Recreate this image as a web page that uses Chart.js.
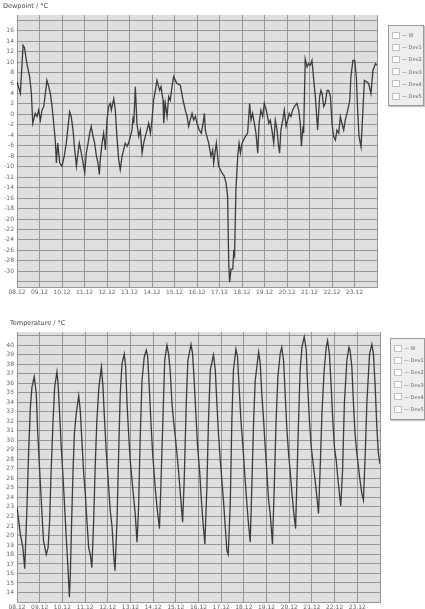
<!DOCTYPE html>
<html><head><meta charset="utf-8">
<script src="https://cdn.jsdelivr.net/npm/chart.js@4/dist/chart.umd.min.js"></script>
<style>
html,body{margin:0;padding:0;background:#fff;width:425px;height:609px;overflow:hidden;font-family:"DejaVu Sans",sans-serif;}
canvas{position:absolute;left:0;}
.title{position:absolute;font-size:6.5px;color:#444;white-space:nowrap;}
.legend{position:absolute;background:#eeeeee;border:1px solid #9a9a9a;box-shadow:1px 1px 1px #c4c4c4;font-size:5px;color:#666;padding-top:3px;box-sizing:border-box;}
.legend .row{height:12.2px;display:flex;align-items:center;white-space:nowrap;}
.legend .box{display:inline-block;width:6px;height:5px;background:#fff;border:1px solid #c0c0c0;margin:0 2px 0 3px;}
</style></head><body>
<canvas id="c1" width="425" height="305" style="top:0"></canvas>
<canvas id="c2" width="425" height="304" style="top:305px"></canvas>
<div class="title" style="left:3px;top:2px">Dewpoint / °C</div>
<div class="title" style="left:10px;top:319px">Temperature / °C</div>
<div class="legend" id="lg1" style="left:388px;top:25px;width:36px;height:81px"></div>
<div class="legend" id="lg2" style="left:390px;top:338px;width:35px;height:82px"></div>
<script>
const xTickLabels = ["08.12","09.12","10.12","11.12","12.12","13.12","14.12","15.12","16.12","17.12","18.12","19.12","20.12","21.12","22.12","23.12"];
const seriesLabels = ["W","Dev1","Dev2","Dev3","Dev4","Dev5"];
const dewTicks = [-32,-30,-28,-26,-24,-22,-20,-18,-16,-14,-12,-10,-8,-6,-4,-2,0,2,4,6,8,10,12,14,16,18];
const tempTicks = [13,14,15,16,17,18,19,20,21,22,23,24,25,26,27,28,29,30,31,32,33,34,35,36,37,38,39,40,41];

const dewDays = [0.00,0.15,0.27,0.33,0.44,0.56,0.64,0.70,0.81,0.89,0.96,1.04,1.11,1.19,1.33,1.41,1.48,1.56,1.63,1.70,1.75,1.81,1.90,2.00,2.10,2.19,2.27,2.34,2.41,2.49,2.55,2.64,2.71,2.77,2.86,2.96,3.01,3.08,3.16,3.23,3.30,3.38,3.45,3.53,3.60,3.66,3.70,3.78,3.85,3.93,4.00,4.07,4.15,4.19,4.30,4.37,4.44,4.52,4.59,4.67,4.74,4.81,4.89,4.96,5.04,5.11,5.16,5.19,5.26,5.33,5.41,5.48,5.56,5.63,5.70,5.78,5.85,5.93,6.00,6.07,6.15,6.22,6.34,6.40,6.49,6.52,6.59,6.67,6.74,6.81,6.89,6.96,7.04,7.11,7.26,7.38,7.48,7.56,7.63,7.70,7.78,7.85,7.93,8.00,8.10,8.19,8.27,8.33,8.37,8.44,8.52,8.62,8.70,8.74,8.86,8.96,9.11,9.21,9.29,9.36,9.41,9.45,9.51,9.59,9.63,9.67,9.73,9.81,9.87,9.93,10.00,10.07,10.15,10.25,10.34,10.40,10.47,10.55,10.62,10.70,10.76,10.84,10.92,10.99,11.08,11.19,11.26,11.33,11.41,11.48,11.56,11.61,11.67,11.73,11.81,11.88,11.96,12.03,12.10,12.18,12.25,12.33,12.44,12.52,12.59,12.64,12.71,12.74,12.81,12.89,12.96,13.04,13.11,13.19,13.26,13.36,13.45,13.51,13.56,13.63,13.70,13.78,13.85,13.93,14.00,14.07,14.15,14.22,14.30,14.37,14.44,14.52,14.59,14.70,14.79,14.84,14.93,15.01,15.08,15.14,15.20,15.29,15.36,15.44,15.56,15.63,15.73,15.82,15.93,16.00];
const dewValues = [6.2,4.0,13.2,12.8,9.7,7.2,4.0,-1.7,0.2,-0.4,0.8,-1.1,0.8,1.5,6.5,5.3,4.0,1.5,-1.7,-4.9,-9.3,-5.5,-9.3,-9.9,-8.0,-5.5,-2.3,0.5,-0.4,-3.0,-6.1,-9.9,-7.4,-5.5,-7.4,-9.9,-11.2,-7.4,-5.5,-3.6,-2.3,-4.2,-5.5,-8.0,-9.3,-11.5,-8.7,-5.5,-3.6,-6.8,-1.1,1.5,2.1,0.8,3.0,0.8,-4.2,-8.7,-10.6,-8.0,-6.8,-5.5,-6.1,-5.5,-4.2,-3.0,-0.4,-1.7,5.3,-1.7,-4.2,-3.0,-7.4,-5.5,-4.2,-3.0,-1.7,-3.6,-1.1,2.7,4.6,6.5,4.6,5.3,2.7,-1.7,2.1,-0.4,3.4,2.7,5.3,7.2,6.5,5.9,5.6,2.7,0.8,-0.4,-2.3,-1.1,0.2,-1.1,-0.4,-1.7,-3.0,-3.6,-1.7,0.2,-3.0,-4.2,-5.5,-8.0,-6.8,-9.3,-5.5,-9.9,-11.2,-11.8,-13.1,-15.6,-28.3,-32.1,-29.6,-29.6,-26.4,-27.0,-14.4,-8.0,-5.5,-7.4,-5.5,-4.9,-4.2,-3.6,2.1,-1.1,0.2,-1.7,-3.6,-7.4,-1.7,0.8,-0.4,2.1,0.8,-1.7,-1.1,-3.0,-5.5,-1.1,-3.0,-5.5,-7.4,-3.0,-1.1,0.8,-2.3,-1.1,0.2,-0.4,0.8,1.5,2.1,0.8,-1.7,-6.1,-2.3,-3.6,10.6,9.1,9.7,9.4,10.3,6.5,3.4,-3.0,3.4,4.6,4.0,1.5,2.1,4.6,4.6,3.4,-1.7,-4.2,-4.9,-3.0,-3.6,-0.4,-1.7,-3.0,-1.1,0.8,2.7,7.2,10.3,10.3,7.2,0.8,-4.2,-6.2,-0.4,6.5,6.2,5.9,4.0,8.4,9.7,9.4];

const tempDays = [0.00,0.15,0.26,0.34,0.44,0.51,0.59,0.66,0.76,0.85,0.91,1.00,1.10,1.17,1.29,1.37,1.44,1.50,1.59,1.66,1.76,1.81,1.88,1.95,2.03,2.10,2.17,2.23,2.31,2.35,2.41,2.47,2.53,2.61,2.72,2.79,2.86,2.94,3.01,3.08,3.16,3.23,3.30,3.38,3.45,3.52,3.61,3.72,3.79,3.86,3.94,4.04,4.11,4.19,4.26,4.32,4.41,4.48,4.55,4.63,4.73,4.79,4.85,4.92,4.99,5.07,5.14,5.21,5.29,5.36,5.43,5.51,5.61,5.70,5.76,5.83,5.90,5.98,6.09,6.17,6.28,6.34,6.43,6.51,6.61,6.68,6.75,6.83,6.90,6.98,7.05,7.12,7.20,7.30,7.37,7.46,7.53,7.67,7.74,7.81,7.90,7.96,8.05,8.12,8.19,8.28,8.37,8.44,8.52,8.66,8.74,8.81,8.88,8.96,9.03,9.10,9.18,9.25,9.31,9.40,9.47,9.54,9.65,9.72,9.79,9.87,9.96,10.03,10.10,10.19,10.28,10.35,10.43,10.50,10.65,10.72,10.79,10.87,10.94,11.01,11.09,11.16,11.26,11.34,11.42,11.50,11.60,11.67,11.75,11.82,11.89,11.97,12.04,12.11,12.19,12.28,12.33,12.41,12.48,12.56,12.66,12.75,12.80,12.89,12.97,13.07,13.14,13.22,13.29,13.36,13.44,13.54,13.63,13.69,13.77,13.85,13.92,13.99,14.07,14.14,14.21,14.27,14.35,14.43,14.54,14.63,14.68,14.76,14.83,14.90,14.98,15.05,15.12,15.20,15.27,15.35,15.42,15.54,15.64,15.71,15.79,15.86,15.93,16.00];
const tempValues = [23.0,20.1,18.7,16.5,23.0,28.6,33.5,35.6,36.7,34.9,31.0,26.8,22.3,19.4,18.0,18.7,21.6,26.5,32.1,35.6,37.2,36.0,32.8,29.3,26.1,23.0,19.8,17.3,13.5,15.9,21.6,26.8,30.7,32.8,34.7,33.1,30.0,26.5,24.4,21.6,18.7,18.0,16.6,21.6,27.5,32.1,35.6,37.7,35.6,32.1,28.6,25.1,22.6,20.9,18.0,16.3,21.6,28.6,34.9,38.1,39.1,37.7,33.9,30.7,27.9,25.8,24.0,22.3,19.3,23.0,30.3,36.3,38.8,39.5,38.8,35.6,32.1,28.6,25.1,23.0,20.7,25.1,32.1,38.4,40.0,39.1,37.4,33.9,32.1,30.3,28.6,26.8,24.4,21.4,25.8,33.9,38.4,40.1,39.1,36.3,32.1,29.3,26.8,24.0,21.6,19.1,25.1,32.1,37.4,39.0,37.4,33.9,30.7,27.9,25.8,23.7,20.9,18.4,18.0,23.3,32.1,37.4,39.6,38.8,35.6,32.1,29.3,26.8,24.4,21.6,19.3,25.1,32.1,36.3,39.3,38.1,34.9,32.1,29.3,26.8,23.7,22.3,19.1,25.1,32.1,36.7,39.1,39.8,38.4,34.9,31.4,28.6,26.8,24.7,22.6,20.7,25.1,32.1,37.4,39.8,40.9,39.5,36.3,32.1,29.3,27.2,25.8,24.0,22.3,26.8,32.8,37.4,39.8,40.5,39.1,35.6,32.1,29.3,27.9,26.1,24.4,23.1,26.8,33.9,38.4,39.8,39.5,37.7,33.9,30.7,28.6,27.2,25.8,24.4,23.7,28.6,33.9,39.1,40.1,39.1,35.6,31.4,28.6,27.5];

function buildLegend(id){
  const el = document.getElementById(id);
  seriesLabels.forEach(l=>{
    const r=document.createElement('div'); r.className='row';
    r.innerHTML='<span class="box"></span>\u2014 '+l;
    el.appendChild(r);
  });
}
buildLegend('lg1'); buildLegend('lg2');

const bgPlugin = {
  id:'plotbg',
  beforeDraw(chart){
    const a=chart.chartArea, c=chart.ctx;
    c.save(); c.fillStyle='#dfdfdf'; c.fillRect(a.left,a.top,a.right-a.left,a.bottom-a.top); c.restore();
  }
};

function makeChart(id, days, values, ticks, yMin, yMax, labelMin, labelMax, pad, yW, xH){
  const datasets = seriesLabels.map((l,i)=>({
    label:l,
    data: i===0 ? days.map((d,k)=>({x:d,y:values[k]})) : [],
    borderColor:'#3c3c3c', borderWidth:1.3, pointRadius:0, tension:0, fill:false
  }));
  return new Chart(document.getElementById(id), {
    type:'line',
    data:{datasets},
    plugins:[bgPlugin],
    options:{
      responsive:false, animation:false, devicePixelRatio:1,
      layout:{padding:pad},
      plugins:{legend:{display:false}, title:{display:false}, tooltip:{enabled:false}},
      scales:{
        x:{type:'linear', min:0, max:16,
          afterBuildTicks(s){ s.ticks = xTickLabels.map((t,i)=>({value:i})).concat([{value:16}]); },
          afterFit(s){ s.height = xH; },
          ticks:{autoSkip:false, maxRotation:0, padding:2, color:'#666', font:{size:6, family:'DejaVu Sans'},
            callback:(v)=> xTickLabels[v] !== undefined ? xTickLabels[v] : ''},
          grid:{color:'#959595', lineWidth:1, drawTicks:false},
          border:{color:'#959595'}
        },
        y:{type:'linear', min:yMin, max:yMax,
          afterBuildTicks(s){ s.ticks = ticks.map(v=>({value:v})); },
          afterFit(s){ s.width = yW; },
          ticks:{autoSkip:false, padding:3, color:'#666', font:{size:6, family:'DejaVu Sans'},
            callback:(v)=> (v>=labelMin && v<=labelMax) ? String(v) : ''},
          grid:{color:'#959595', lineWidth:1, drawTicks:false},
          border:{color:'#959595'}
        }
      }
    }
  });
}

makeChart('c1', dewDays, dewValues, dewTicks, -33, 19, -30, 16, {left:0,right:48,top:15,bottom:0}, 17, 18);
makeChart('c2', tempDays, tempValues, tempTicks, 13, 41.4, 14, 40, {left:0,right:45,top:27,bottom:0}, 17, 7);
</script>
</body></html>
